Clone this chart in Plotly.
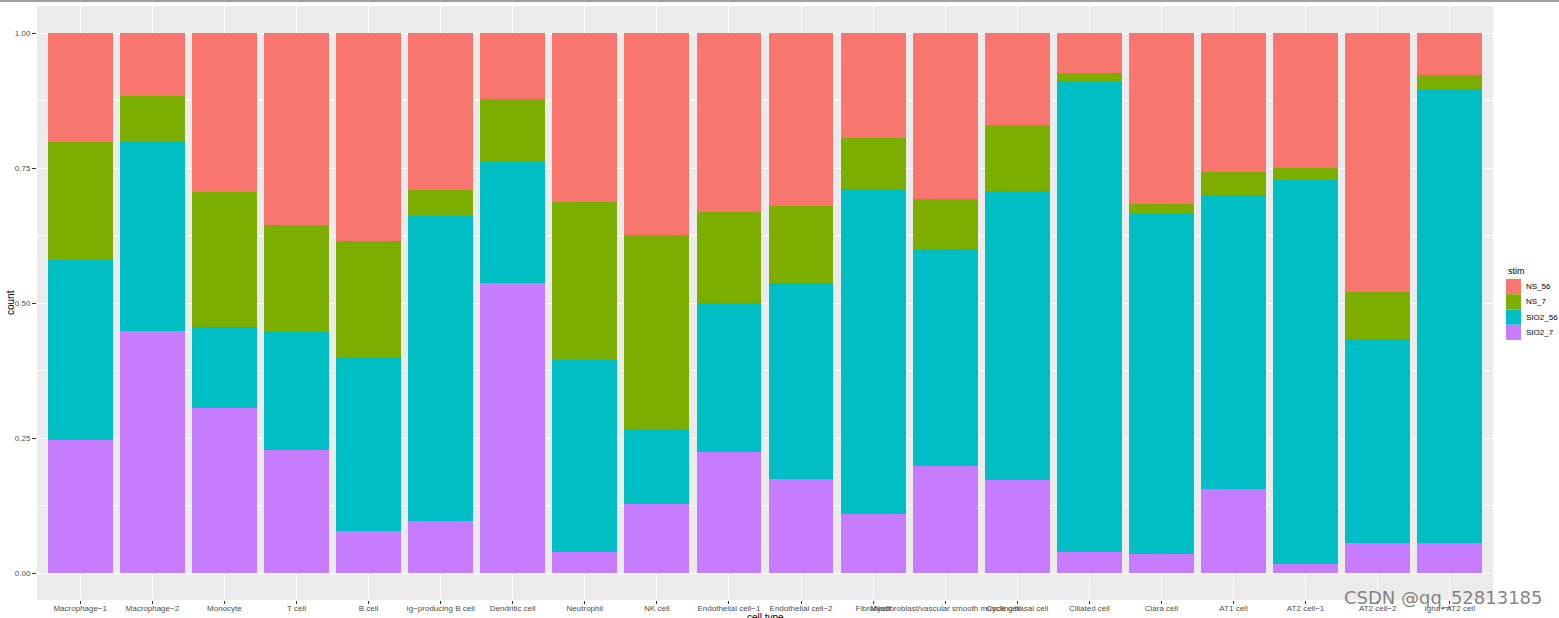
import plotly.graph_objects as go

M = "\u2212"
categories = ["Macrophage" + M + "1", "Macrophage" + M + "2", "Monocyte", "T cell", "B cell",
              "Ig" + M + "producing B cell", "Dendritic cell", "Neutrophil", "NK cell",
              "Endothelial cell" + M + "1", "Endothelial cell" + M + "2", "Fibroblast",
              "Myofibroblast/vascular smooth muscle cell", "Cycling basal cell", "Ciliated cell",
              "Clara cell", "AT1 cell", "AT2 cell" + M + "1", "AT2 cell" + M + "2", "Igha+ AT2 cell"]

sio2_7 = [0.247, 0.448, 0.305, 0.228, 0.077, 0.097, 0.537, 0.038, 0.127, 0.224,
          0.175, 0.109, 0.199, 0.173, 0.039, 0.035, 0.156, 0.017, 0.055, 0.056]
sio2_56 = [0.333, 0.351, 0.151, 0.218, 0.321, 0.564, 0.224, 0.357, 0.137, 0.276,
           0.362, 0.603, 0.401, 0.534, 0.871, 0.630, 0.544, 0.710, 0.378, 0.841]
ns_7 = [0.219, 0.085, 0.250, 0.198, 0.217, 0.049, 0.116, 0.292, 0.362, 0.169,
        0.143, 0.093, 0.093, 0.123, 0.016, 0.018, 0.042, 0.023, 0.087, 0.026]
ns_56 = [0.201, 0.116, 0.294, 0.356, 0.385, 0.290, 0.123, 0.313, 0.374, 0.331,
         0.320, 0.195, 0.307, 0.170, 0.074, 0.317, 0.258, 0.250, 0.480, 0.077]

y_ticks = [0.0, 0.25, 0.5, 0.75, 1.0]
y_ticklabels = ["0.00", "0.25", "0.50", "0.75", "1.00"]

series = [("SIO2_7", sio2_7, "#C77CFF"), ("SIO2_56", sio2_56, "#00BFC4"),
          ("NS_7", ns_7, "#7CAE00"), ("NS_56", ns_56, "#F8766D")]

W, H = 1559, 618
L, R, T, B = 37, 66, 6, 18
PW, PH = W - L - R, H - T - B

def px(x):
    return (x - L) / PW

def py(y):
    return (H - B - y) / PH

fig = go.Figure()
for name, vals, col in series:
    fig.add_trace(go.Bar(x=categories, y=vals, name=name, marker=dict(color=col, line=dict(width=0)),
                         showlegend=False))

fig.update_layout(
    width=W, height=H, barmode="stack", bargap=0.1,
    margin=dict(l=L, r=R, t=T, b=B, pad=0),
    paper_bgcolor="white", plot_bgcolor="#EBEBEB",
    font=dict(family="Liberation Sans, Arial, sans-serif", size=8, color="#4D4D4D"),
)
fig.update_xaxes(
    type="category", range=[-0.6, 19.6], tickangle=0, showgrid=True, gridcolor="white", gridwidth=1.3,
    ticks="outside", ticklen=3, tickwidth=1, tickcolor="#333333", showline=False, zeroline=False,
    tickfont=dict(size=8, color="#4D4D4D"), automargin=False, ticklabelstandoff=-3,
)
fig.update_yaxes(
    range=[-0.05, 1.05], tickvals=y_ticks, ticktext=y_ticklabels, showgrid=True, gridcolor="white",
    gridwidth=1.3, ticks="outside", ticklen=4, tickwidth=1, tickcolor="#333333", zeroline=False,
    showline=False, tickfont=dict(size=8, color="#4D4D4D"), automargin=False,
    minor=dict(tickvals=[0.125, 0.375, 0.625, 0.875], showgrid=True, gridcolor="white", gridwidth=0.6,
               ticks=""),
)

ann = []
ann.append(dict(text="count", x=px(10), y=0.5, xref="paper", yref="paper", textangle=-90,
                showarrow=False, font=dict(size=10, color="black"), xanchor="center", yanchor="middle"))
ann.append(dict(text="cell type", x=0.5, y=0, xref="paper", yref="paper", yanchor="top", yshift=-10,
                showarrow=False, font=dict(size=10, color="black")))
# legend
ann.append(dict(text="stim", x=px(1506), y=py(271), xref="paper", yref="paper", xanchor="left",
                yanchor="middle", showarrow=False, font=dict(size=9, color="black")))
shapes = []
legend_items = list(reversed(series))
for i, (name, vals, col) in enumerate(legend_items):
    top = 279 + i * 15.25
    shapes.append(dict(type="rect", xref="paper", yref="paper", x0=px(1506), x1=px(1521),
                       y0=py(top + 15.25), y1=py(top), fillcolor=col, line=dict(width=0)))
    ann.append(dict(text=name, x=px(1524), y=py(top + 7.6), xref="paper", yref="paper",
                    xanchor="left", yanchor="middle", showarrow=False,
                    font=dict(size=8, color="black")))
# watermark
ann.append(dict(text="CSDN @qq_52813185", x=px(1545), y=py(598), xref="paper", yref="paper",
                xanchor="right", yanchor="middle", showarrow=False,
                font=dict(family="DejaVu Sans, sans-serif", size=18, color="rgba(110,110,110,0.85)")))
# screenshot border
shapes.append(dict(type="rect", xref="paper", yref="paper", x0=px(0), x1=px(W), y0=py(2), y1=py(0),
                   fillcolor="#A0A0A0", line=dict(width=0), layer="above"))
fig.update_layout(annotations=ann, shapes=shapes)

fig.write_html("out.html", config={"displayModeBar": False},
               post_script="document.body.style.margin='0';")
